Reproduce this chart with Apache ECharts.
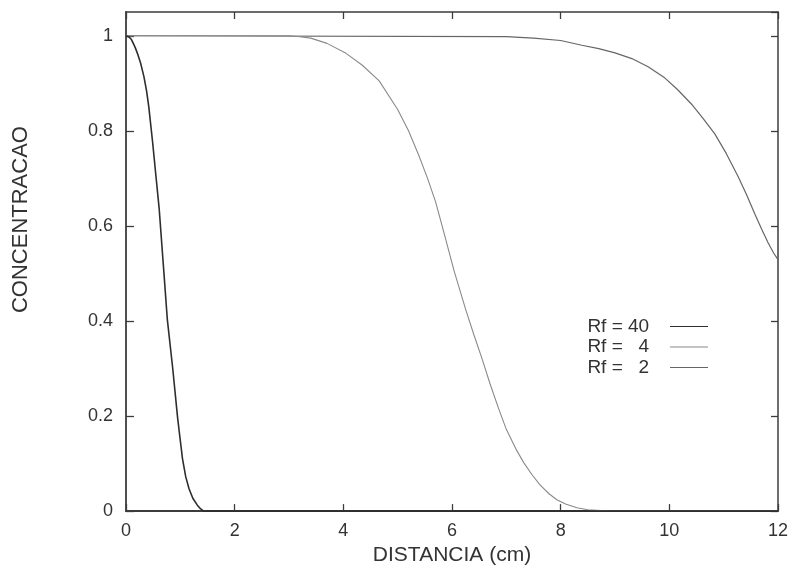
<!DOCTYPE html>
<html>
<head>
<meta charset="utf-8">
<script src="https://cdn.jsdelivr.net/npm/echarts@6/dist/echarts.min.js"></script>
<style>html,body{margin:0;padding:0;background:#fff}#c{width:791px;height:571px}</style>
</head>
<body>
<div id="c"></div>
<script>
// Series names (legend labels)
const seriesNames = ['Rf = 40', 'Rf =   4', 'Rf =   2'];

// Rf = 40
const rf40X = [0, 0.03, 0.06, 0.10, 0.13, 0.17, 0.21, 0.27, 0.33, 0.38, 0.42, 0.49, 0.55, 0.61, 0.65, 0.70, 0.76, 0.81, 0.86, 0.95, 1.00, 1.04, 1.10, 1.16, 1.23, 1.31, 1.37, 1.43, 2, 12];
const rf40Y = [1.0, 0.999, 0.997, 0.992, 0.985, 0.975, 0.963, 0.942, 0.914, 0.883, 0.850, 0.776, 0.706, 0.637, 0.575, 0.498, 0.404, 0.352, 0.300, 0.196, 0.148, 0.110, 0.072, 0.047, 0.027, 0.013, 0.005, 0.0, 0, 0];

// Rf = 4
const rf4X = [0, 3.0, 3.2, 3.4, 3.7, 4.05, 4.35, 4.66, 5.0, 5.2, 5.39, 5.55, 5.70, 5.87, 6.04, 6.25, 6.40, 6.56, 6.70, 6.86, 7.0, 7.17, 7.32, 7.47, 7.62, 7.78, 7.93, 8.09, 8.3, 8.5, 8.75, 9.0, 12];
const rf4Y = [1, 1.0, 0.998, 0.995, 0.984, 0.963, 0.938, 0.905, 0.845, 0.800, 0.748, 0.700, 0.650, 0.578, 0.505, 0.425, 0.372, 0.318, 0.268, 0.215, 0.172, 0.132, 0.102, 0.077, 0.055, 0.037, 0.024, 0.015, 0.007, 0.003, 0.001, 0, 0];

// Rf = 2
const rf2X = [0, 7.0, 7.5, 8.0, 8.39, 8.7, 9.0, 9.31, 9.61, 9.92, 10.15, 10.41, 10.62, 10.84, 11.05, 11.27, 11.42, 11.57, 11.70, 11.82, 11.92, 12];
const rf2Y = [1, 0.998, 0.995, 0.99, 0.98, 0.973, 0.964, 0.952, 0.935, 0.911, 0.887, 0.856, 0.826, 0.793, 0.752, 0.703, 0.666, 0.626, 0.593, 0.564, 0.543, 0.529];

// Axis
const xTicks = [0, 2, 4, 6, 8, 10, 12];
const yTicks = [0, 0.2, 0.4, 0.6, 0.8, 1];

const pairs = (xs, ys) => xs.map((x, i) => [x, ys[i]]);

const axisColor = '#3c3c3c';
const font = 'Liberation Sans, Arial, Helvetica, sans-serif';

const chart = echarts.init(document.getElementById('c'), null, {renderer: 'canvas'});
chart.setOption({
  backgroundColor: '#ffffff',
  animation: false,
  grid: {left: 126, right: 9, top: 12, bottom: 57, containLabel: false},
  legend: {
    orient: 'vertical',
    right: 78,
    top: 312,
    align: 'right',
    itemWidth: 38,
    itemHeight: 18,
    itemGap: 1.5,
    formatter: n => n + '   ',
    textStyle: {fontFamily: font, fontSize: 19, color: '#333'},
    data: seriesNames.map(n => ({name: n, icon: 'path://M0,0 L38,0 L38,1 L0,1 Z'}))
  },
  xAxis: [{
    type: 'value', min: xTicks[0], max: xTicks[xTicks.length - 1], interval: 2,
    name: 'DISTANCIA (cm)', nameLocation: 'middle', nameGap: 26,
    nameTextStyle: {fontFamily: font, fontSize: 21, color: '#333'},
    axisLine: {show: true, lineStyle: {color: axisColor, width: 2}},
    axisTick: {show: true, inside: true, length: 7, lineStyle: {color: axisColor, width: 1.3}},
    axisLabel: {margin: 11, fontFamily: font, fontSize: 18, color: '#333'},
    splitLine: {show: false}
  }, {
    type: 'value', position: 'top', min: xTicks[0], max: xTicks[xTicks.length - 1], interval: 2,
    axisLine: {show: true, onZero: false, lineStyle: {color: axisColor, width: 1.5}},
    axisTick: {show: true, inside: true, length: 7, lineStyle: {color: axisColor, width: 1.3}},
    axisLabel: {show: false}, splitLine: {show: false}
  }],
  yAxis: [{
    type: 'value', min: 0, max: 1.05, interval: 0.2,
    name: 'CONCENTRACAO', nameLocation: 'middle', nameGap: 94, nameRotate: 90,
    nameTextStyle: {fontFamily: font, fontSize: 22, color: '#333', padding: [0, 0, 0, 84]},
    axisLine: {show: true, lineStyle: {color: axisColor, width: 1.8}},
    axisTick: {show: true, inside: true, length: 8, lineStyle: {color: axisColor, width: 1.3}},
    axisLabel: {margin: 13, fontFamily: font, fontSize: 18, color: '#333', showMaxLabel: false,
      formatter: v => yTicks.some(t => Math.abs(t - v) < 1e-6) ? String(Math.round(v * 10) / 10) : ''},
    splitLine: {show: false}
  }, {
    type: 'value', position: 'right', min: 0, max: 1.05, interval: 0.2,
    axisLine: {show: true, onZero: false, lineStyle: {color: axisColor, width: 1.5}},
    axisTick: {show: true, inside: true, length: 7, lineStyle: {color: axisColor, width: 1.3}},
    axisLabel: {show: false}, splitLine: {show: false}
  }],
  series: [
    {name: seriesNames[0], type: 'line', data: pairs(rf40X, rf40Y), showSymbol: false, symbol: 'none',
     smooth: false, z: 5,
     lineStyle: {color: '#2e2e2e', width: 1.6}, itemStyle: {color: '#2e2e2e'}},
    {name: seriesNames[1], type: 'line', data: pairs(rf4X, rf4Y), showSymbol: false, symbol: 'none',
     smooth: false, z: 4,
     lineStyle: {color: '#8a8a8a', width: 1.1}, itemStyle: {color: '#8a8a8a'}},
    {name: seriesNames[2], type: 'line', data: pairs(rf2X, rf2Y), showSymbol: false, symbol: 'none',
     smooth: false, z: 3,
     lineStyle: {color: '#666666', width: 1.2}, itemStyle: {color: '#666666'}}
  ]
});
</script>
</body>
</html>
